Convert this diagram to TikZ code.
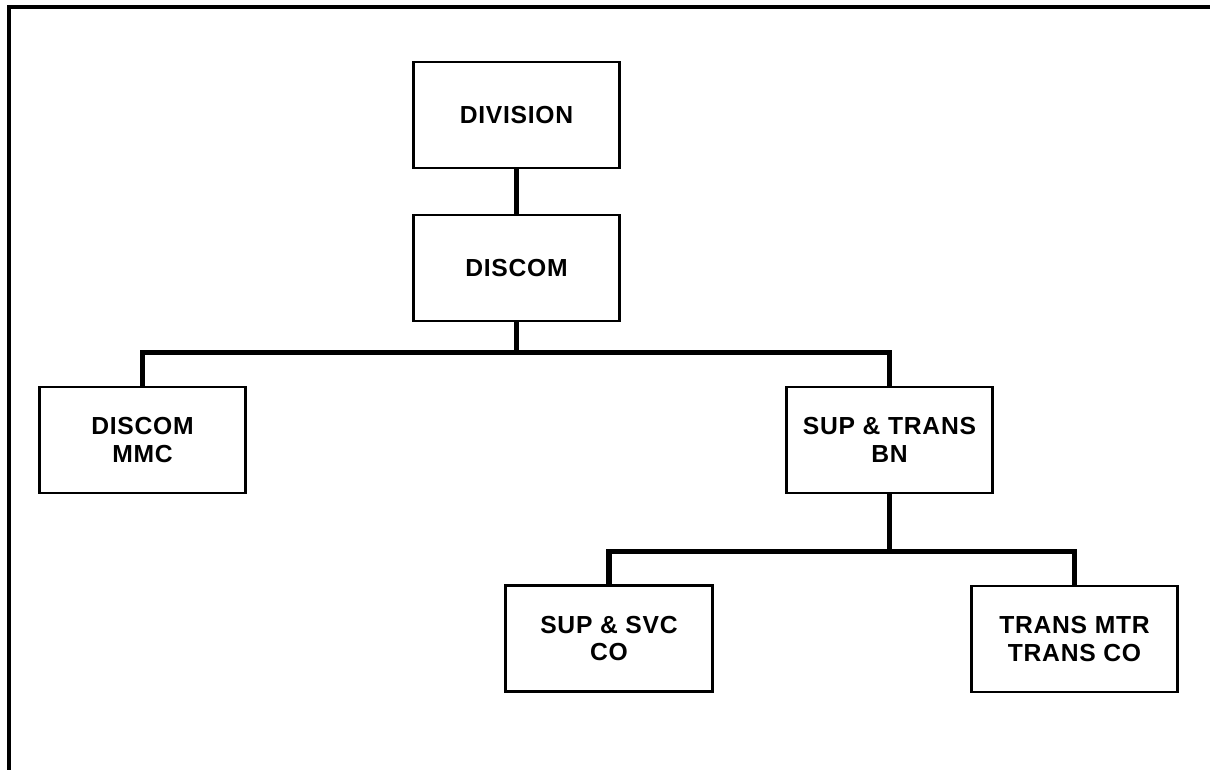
\documentclass[tikz,border=0pt]{standalone}
\usepackage{fontspec}
\setmainfont{Liberation Sans}[LetterSpace=3]
\usepackage{tikz}
\usetikzlibrary{positioning}

\begin{document}
\begin{tikzpicture}[
        x=0.75pt, y=-0.75pt,
        unit/.style={rectangle, draw=black, line width=2.2pt, minimum width=155pt, minimum height=79.5pt, align=center, inner sep=2pt, font=\fontsize{18.5pt}{20.5pt}\selectfont\bfseries},
        conn/.style={line width=4.2pt, draw=black},
        frame/.style={line width=2.6pt, draw=black}
    ]
        \useasboundingbox (0,0) rectangle (1210,770);
        \draw[frame] (9,770) -- (9,7) -- (1210,7);

        \node[unit] (division) at (516.5,115) {DIVISION};
        \node[unit] (discom) at (516.5,268) {DISCOM};
        \node[unit] (mmc) at (142.5,440) {DISCOM\\MMC};
        \node[unit] (supbn) at (889.5,440) {SUP \& TRANS\\BN};
        \node[unit] (supsvc) at (609,638.5) {SUP \& SVC\\CO};
        \node[unit] (transco) at (1074.5,639) {TRANS MTR\\TRANS CO};

        \draw[conn] (division) -- (discom);
        \draw[conn] (discom.south) -- ++(0,30) -| (mmc.north);
        \draw[conn] (discom.south) -- ++(0,30) -| (supbn.north);
        \draw[conn] (supbn.south) -- ++(0,57) -| (supsvc.north);
        \draw[conn] (supbn.south) -- ++(0,57) -| (transco.north);
    \end{tikzpicture}
\end{document}
